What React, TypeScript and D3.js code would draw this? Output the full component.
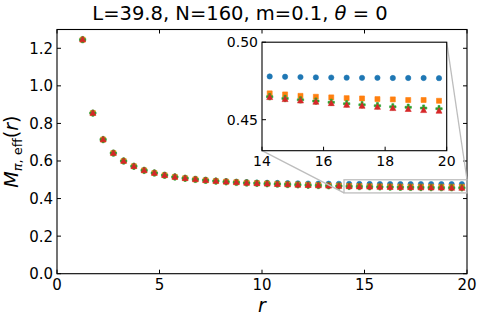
import React from "react";
import * as d3 from "d3";

// r values (lattice distances)
const rValues = [
  1.25, 1.75, 2.25, 2.75, 3.25, 3.75, 4.25, 4.75, 5.25, 5.75,
  6.25, 6.75, 7.25, 7.75, 8.25, 8.75, 9.25, 9.75, 10.25, 10.75,
  11.25, 11.75, 12.25, 12.75, 13.25, 13.75, 14.25, 14.75, 15.25, 15.75,
  16.25, 16.75, 17.25, 17.75, 18.25, 18.75, 19.25, 19.75,
];

const blueVals = [
  1.246, 0.855, 0.714, 0.642, 0.600, 0.572, 0.551, 0.537, 0.525, 0.516,
  0.509, 0.503, 0.499, 0.495, 0.492, 0.489, 0.487, 0.485, 0.484, 0.483,
  0.482, 0.481, 0.480, 0.4795, 0.479, 0.4785, 0.4779, 0.4777, 0.4775, 0.4773,
  0.4772, 0.4771, 0.4770, 0.4770, 0.4769, 0.4769, 0.4769, 0.4768,
];

const orangeVals = [
  1.246, 0.855, 0.714, 0.642, 0.600, 0.572, 0.550, 0.536, 0.524, 0.515,
  0.508, 0.502, 0.497, 0.493, 0.490, 0.487, 0.484, 0.482, 0.480, 0.478,
  0.476, 0.4745, 0.473, 0.4715, 0.470, 0.4685, 0.4670, 0.4663, 0.4654, 0.4648,
  0.4644, 0.4639, 0.4637, 0.4633, 0.4631, 0.4627, 0.4627, 0.4622,
];

const greenVals = [
  1.246, 0.855, 0.714, 0.642, 0.600, 0.572, 0.550, 0.536, 0.524, 0.515,
  0.508, 0.502, 0.497, 0.493, 0.489, 0.486, 0.483, 0.481, 0.479, 0.477,
  0.475, 0.473, 0.471, 0.4695, 0.468, 0.4665, 0.4648, 0.4637, 0.4628, 0.4620,
  0.4612, 0.4603, 0.4596, 0.4590, 0.4583, 0.4580, 0.4575, 0.4571,
];

const redVals = [
  1.246, 0.855, 0.714, 0.642, 0.600, 0.572, 0.550, 0.536, 0.524, 0.515,
  0.508, 0.502, 0.497, 0.493, 0.489, 0.486, 0.483, 0.4805, 0.4785, 0.4765,
  0.4745, 0.4725, 0.4705, 0.469, 0.4675, 0.466, 0.4644, 0.4631, 0.4622, 0.4614,
  0.4605, 0.4594, 0.4588, 0.4581, 0.4573, 0.4567, 0.4560, 0.4556,
];

const xTicks = [0, 5, 10, 15, 20];
const yTicks = [0.0, 0.2, 0.4, 0.6, 0.8, 1.0, 1.2];
const insetXTicks = [14, 16, 18, 20];
const insetYTicks = [0.45, 0.5];

const colors = { blue: "#1f77b4", orange: "#ff7f0e", green: "#2ca02c", red: "#d62728" };
const font = "DejaVu Sans, sans-serif";

const W = 480;
const H = 320;
const main = { left: 57, right: 467, top: 29.5, bottom: 273.7 };
const inset = { left: 262, right: 446.7, top: 42.2, bottom: 150.7 };

type Marker = "circle" | "square" | "plus" | "triangle";

const markerPath = (m: Marker): string => {
  if (m === "circle") return d3.symbol(d3.symbolCircle, 22)() as string;
  if (m === "square") return "M-2.5,-2.5H2.5V2.5H-2.5Z";
  if (m === "plus")
    return "M-1,-3.2H1V-1H3.2V1H1V3.2H-1V1H-3.2V-1H-1Z";
  return "M0,-3.3L3,2.2H-3Z";
};

const series: { vals: number[]; color: string; marker: Marker }[] = [
  { vals: blueVals, color: colors.blue, marker: "circle" },
  { vals: orangeVals, color: colors.orange, marker: "square" },
  { vals: greenVals, color: colors.green, marker: "plus" },
  { vals: redVals, color: colors.red, marker: "triangle" },
];

const Points = ({ x, y, xMin, xMax }: { x: d3.ScaleLinear<number, number>; y: d3.ScaleLinear<number, number>; xMin: number; xMax: number }) => (
  <g>
    {series.map((s, si) => (
      <g key={si} fill={s.color} stroke={s.color} strokeWidth={0.6}>
        {rValues.map((r, i) =>
          r >= xMin && r <= xMax ? (
            <path key={i} d={markerPath(s.marker)} transform={`translate(${x(r)},${y(s.vals[i])})`} />
          ) : null
        )}
      </g>
    ))}
  </g>
);

const App = () => {
  const x = d3.scaleLinear().domain([0, 20]).range([main.left, main.right]);
  const y = d3.scaleLinear().domain([0, 1.3]).range([main.bottom, main.top]);
  const xi = d3.scaleLinear().domain([14, 20]).range([inset.left, inset.right]);
  const yi = d3.scaleLinear().domain([0.43, 0.5]).range([inset.bottom, inset.top]);
  const tl = 4;

  return (
    <svg width={W} height={H} style={{ position: "absolute", left: 0, top: 0, background: "#fff" }} fontFamily={font}>
      {/* title */}
      <text x={240} y={19.5} textAnchor="middle" fontSize={19.5}>
        L=39.8, N=160, m=0.1, <tspan fontStyle="italic">θ</tspan> = 0
      </text>

      {/* main points */}
      <Points x={x} y={y} xMin={0} xMax={20} />

      {/* main ticks */}
      <g stroke="#000" strokeWidth={1}>
        {xTicks.map((t) => (
          <g key={t}>
            <line x1={x(t)} x2={x(t)} y1={main.bottom} y2={main.bottom - tl} />
            <line x1={x(t)} x2={x(t)} y1={main.top} y2={main.top + tl} />
          </g>
        ))}
        {yTicks.map((t) => (
          <g key={t}>
            <line x1={main.left} x2={main.left + tl} y1={y(t)} y2={y(t)} />
            <line x1={main.right} x2={main.right - tl} y1={y(t)} y2={y(t)} />
          </g>
        ))}
      </g>
      <g fontSize={15} fill="#000">
        {xTicks.map((t) => (
          <text key={t} x={x(t)} y={main.bottom + 16} textAnchor="middle">{t}</text>
        ))}
        {yTicks.map((t) => (
          <text key={t} x={main.left - 4} y={y(t)} dy="0.36em" textAnchor="end">{t.toFixed(1)}</text>
        ))}
      </g>
      <rect x={main.left} y={main.top} width={main.right - main.left} height={main.bottom - main.top} fill="none" stroke="#000" strokeWidth={1.1} />

      {/* axis labels */}
      <text x={x(10)} y={312} textAnchor="middle" fontSize={19} fontStyle="italic">r</text>
      <text transform={`translate(18,${(main.top + main.bottom) / 2}) rotate(-90)`} textAnchor="middle" fontSize={19}>
        <tspan fontStyle="italic">M</tspan>
        <tspan fontSize={13} dy={4} fontStyle="italic">π</tspan>
        <tspan fontSize={13}>, eff</tspan>
        <tspan dy={-4}>(</tspan>
        <tspan fontStyle="italic">r</tspan>
        <tspan>)</tspan>
      </text>

      {/* zoom indicator */}
      <g stroke="#bdbdbd" strokeWidth={1.3} fill="none">
        <rect x={x(14)} y={y(0.5)} width={x(20) - x(14)} height={y(0.43) - y(0.5)} />
        <line x1={inset.left} y1={inset.bottom} x2={x(14)} y2={y(0.43)} />
        <line x1={inset.right} y1={inset.top} x2={x(20)} y2={y(0.5)} />
      </g>

      {/* inset */}
      <rect x={inset.left} y={inset.top} width={inset.right - inset.left} height={inset.bottom - inset.top} fill="#fff" />
      <Points x={xi} y={yi} xMin={14} xMax={20} />
      <g stroke="#000" strokeWidth={1}>
        {insetXTicks.map((t) => (
          <line key={t} x1={xi(t)} x2={xi(t)} y1={inset.bottom} y2={inset.bottom - tl} />
        ))}
        {insetYTicks.map((t) => (
          <line key={t} x1={inset.left} x2={inset.left + tl} y1={yi(t)} y2={yi(t)} />
        ))}
      </g>
      <g fontSize={14} fill="#000">
        {insetXTicks.map((t) => (
          <text key={t} x={xi(t)} y={inset.bottom + 15} textAnchor="middle">{t}</text>
        ))}
        {insetYTicks.map((t) => (
          <text key={t} x={inset.left - 4} y={yi(t)} dy="0.36em" textAnchor="end">{t.toFixed(2)}</text>
        ))}
      </g>
      <rect x={inset.left} y={inset.top} width={inset.right - inset.left} height={inset.bottom - inset.top} fill="none" stroke="#000" strokeWidth={1.1} />
    </svg>
  );
};

export default App;
